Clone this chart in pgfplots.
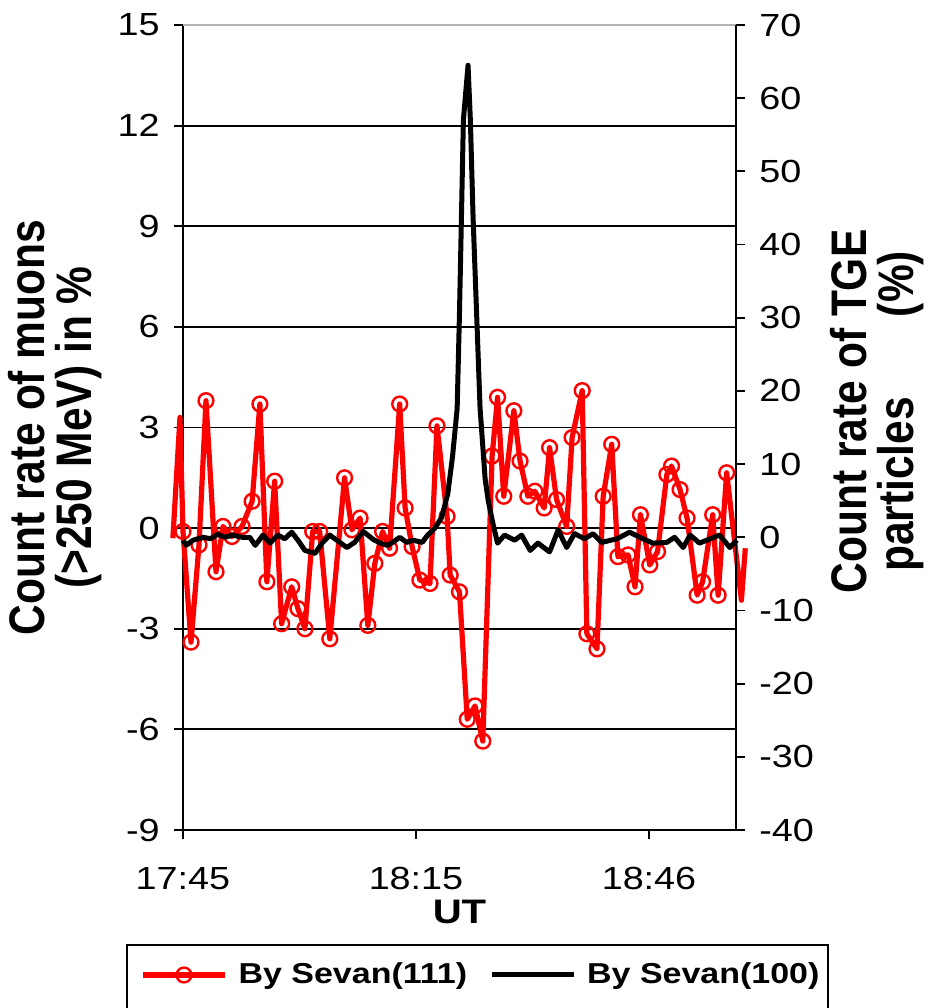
\documentclass[border=0pt]{standalone}
\usepackage{fontspec}
\setmainfont{Liberation Sans}[FakeStretch=1.18]
\newfontfamily\vfont{Liberation Sans}[FakeStretch=0.85]
\usepackage{pgfplots}
\usepackage{pgfplotstable}
\pgfplotsset{compat=1.18}

% muons, left axis (%), x in minutes after 17:45
\pgfplotstableread{
x y
-1.3 -0.3
-0.39 3.3
0 -0.1
1.03 -3.4
2.06 -0.5
2.96 3.8
4.25 -1.3
5.15 0.05
6.3 -0.25
7.6 0.05
8.9 0.8
9.9 3.7
10.8 -1.6
11.8 1.4
12.7 -2.85
14.0 -1.75
14.8 -2.4
15.7 -3.0
16.7 -0.1
17.6 -0.1
18.9 -3.3
20.8 1.5
21.75 -0.05
22.8 0.3
23.8 -2.9
24.7 -1.05
25.7 -0.1
26.6 -0.6
27.9 3.7
28.6 0.6
29.5 -0.55
30.5 -1.55
31.8 -1.65
32.7 3.05
34.0 0.35
34.4 -1.4
35.6 -1.9
36.6 -5.7
37.6 -5.3
38.6 -6.35
39.8 2.15
40.5 3.9
41.3 0.95
42.6 3.5
43.4 2.0
44.4 0.95
45.3 1.1
46.5 0.6
47.2 2.4
48.1 0.85
49.4 0.05
50.1 2.7
51.4 4.1
52.0 -3.15
53.3 -3.6
54.1 0.95
55.2 2.5
56.0 -0.85
57.3 -0.8
58.2 -1.75
58.9 0.4
60.1 -1.1
61.1 -0.7
62.3 1.6
62.9 1.85
64.0 1.15
64.9 0.3
66.2 -2.0
66.9 -1.6
68.2 0.4
68.9 -2.0
70.0 1.65
71.9 -2.15
72.4 -0.6
}\muontab

% TGE particles, right axis (%)
\pgfplotstableread{
x y
0 -0.4
0.4 -1.1
1.3 -0.4
2.6 0
3.5 -0.2
4.5 0.4
5.4 0
6.4 0.3
7.6 0
8.6 0
9.3 -1.1
10.3 0.3
11.2 -0.8
12.2 0.3
13.1 -0.2
14.0 0.7
14.8 -0.4
15.7 -1.8
17.0 -2.2
17.9 -0.8
18.9 0.3
19.8 -0.4
21.1 -1.4
22.1 -0.7
23.2 0.8
24.5 -0.3
25.4 -0.8
26.3 -1.1
27.0 -0.7
27.9 0
28.8 -0.7
29.6 -0.4
30.8 -0.7
31.5 0.3
32.4 1.2
33.3 2.7
34.1 6
34.7 11
35.3 17.6
35.6 30.7
35.85 43.7
36.1 57
36.7 64.5
37.0 57
37.35 43.7
37.8 30.7
38.25 17.6
38.9 8
39.3 5
39.9 1.9
40.5 -0.8
41.4 0.3
42.7 -0.4
43.6 0.3
44.7 -1.8
45.7 -0.8
47.2 -2
48.3 1.0
49.4 -1.4
50.4 0.5
51.7 -0.2
52.8 0.5
53.9 -0.7
55.9 -0.2
57.5 0.7
58.8 0
60.5 -0.8
62.3 -0.7
63.3 0
64.4 -1.4
65.3 0.3
66.5 -0.8
69.1 0.3
70.4 -1.4
71.3 -0.4
}\tgetab

\begin{document}
\begin{tikzpicture}
\pgfplotsset{
  every axis/.append style={
    scale only axis, width=276.5pt, height=402.5pt,
    xmin=0, xmax=71.2, clip=false,
    tick align=outside, major tick length=4.5pt,
    tick style={black, line width=0.9pt},
    axis line style={black, line width=0.9pt},
    /pgf/number format/assume math mode=true,
    tick label style={font=\fontsize{16}{19}\selectfont, inner sep=0pt},
  },
  legend image code/.code={\draw[mark repeat=2, mark phase=2, #1] plot coordinates {(0pt,0pt) (20.5pt,0pt) (41pt,0pt)};},
}
\begin{axis}[
  axis x line*=bottom, axis y line*=left,
  ymin=-9, ymax=15, ytick={-9,-6,...,12},
  extra y ticks={15}, extra y tick style={grid=none},
  ymajorgrids, major grid style={black, line width=0.9pt},
  xtick={0,30,60}, xticklabels={17:45,18:15,18:46},
  xticklabel style={anchor=north, yshift=-14pt},
  yticklabel style={anchor=east, xshift=-7pt},
  xlabel={UT},
  xlabel style={at={(axis description cs:0.5,0)}, anchor=center, yshift=-41pt, font=\fontsize{17}{20}\selectfont\bfseries},
  ylabel={Count rate of muons\\(>250 MeV) in \%},
  ylabel style={at={(axis description cs:0,0.5)}, anchor=center, yshift=64pt, align=center, font=\vfont\bfseries\fontsize{25}{23.5}\selectfont},
]
\coordinate (O) at (rel axis cs:0,0);
\draw[gray!60, line width=0.9pt] (rel axis cs:0,1) -- (rel axis cs:1,1);
\addplot[red, line width=2.6pt, line join=round, mark=none] table {\muontab};
\addplot[only marks, mark=o, mark size=3.7pt, restrict x to domain=-0.2:71.5,
  mark options={draw=red, fill=white, line width=1.2pt}] table {\muontab};
\end{axis}
\begin{axis}[
  axis x line=none, axis y line*=right,
  ymin=-40, ymax=70, ytick={-40,-30,...,70},
  yticklabel style={anchor=west, xshift=7pt},
  ylabel={Count rate of TGE\\particles\hspace{1.6em}(\%)},
  ylabel style={at={(axis description cs:1,0.52)}, anchor=center, yshift=-70.5pt, align=center, font=\vfont\bfseries\fontsize{25}{23.5}\selectfont},
  legend columns=2,
  legend style={at={(axis description cs:-0.0778,-0.1801)}, anchor=west, draw=none, fill=none,
    inner sep=0pt, font=\fontsize{14.4}{17}\selectfont\bfseries,
    nodes={inner sep=0pt},
    /tikz/every odd column/.append style={column sep=5.5pt},
    /tikz/every even column/.append style={column sep=11pt}},
]
\addlegendimage{red, line width=2.6pt, mark=o, mark size=3.7pt, mark options={draw=red, fill=white, line width=1.2pt}}
\addlegendentry{By Sevan(111)}
\addplot[black, line width=2.5pt, line join=round] table {\tgetab};
\addlegendentry{By Sevan(100)}
\draw[black, line width=0.9pt] (axis description cs:-0.1013,-0.1429) rectangle (axis description cs:1.1664,-0.26);
\end{axis}
\pgfresetboundingbox
\path[use as bounding box] ([shift={(-91.5pt,-89pt)}]O) rectangle ([shift={(375pt,415pt)}]O);
\end{tikzpicture}
\end{document}
